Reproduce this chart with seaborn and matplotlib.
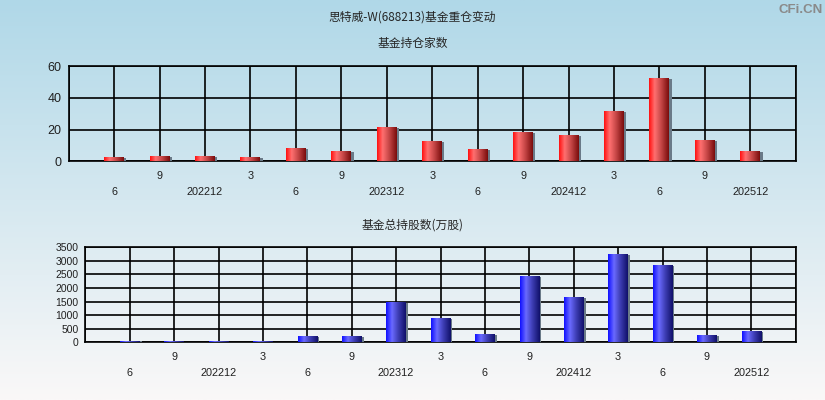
import numpy as np
import pandas as pd
import matplotlib
matplotlib.use('Agg')
import matplotlib.pyplot as plt
from matplotlib.colors import LinearSegmentedColormap
from matplotlib.patches import Rectangle
import seaborn as sns

# 报告期 (季度) 及对应数据
periods = ['202206', '202209', '202212', '202303', '202306', '202309', '202312',
           '202403', '202406', '202409', '202412', '202503', '202506', '202509', '202512']
tick_labels = ['6', '9', '202212', '3', '6', '9', '202312',
               '3', '6', '9', '202412', '3', '6', '9', '202512']
fund_counts = [2, 3, 3, 2, 8, 6, 21, 12, 7, 18, 16, 31, 52, 13, 6]
fund_shares = [30, 25, 20, 25, 190, 190, 1450, 860, 270, 2410, 1630, 3220, 2810, 230, 380]

main_title = '思特威-W(688213)基金重仓变动'
top_title = '基金持仓家数'
bottom_title = '基金总持股数(万股)'

sns.set_style('white')
plt.rcParams['font.family'] = ['Liberation Sans', 'Noto Sans CJK SC']
CJK = ['Noto Sans CJK SC', 'DejaVu Sans']

red_cmap = LinearSegmentedColormap.from_list(
    'redbar', [(0, '#ff1010'), (0.28, '#ff7070'), (0.6, '#c84848'), (1, '#7a0c0c')])
blue_cmap = LinearSegmentedColormap.from_list(
    'bluebar', [(0, '#1010ff'), (0.3, '#6a6aff'), (0.6, '#4040b8'), (1, '#10106a')])

fig = plt.figure(figsize=(8.25, 4.0), dpi=100)

# 背景渐变
bg = fig.add_axes([0, 0, 1, 1], zorder=-10)
top_c = np.array([176, 216, 232]) / 255
bot_c = np.array([250, 248, 248]) / 255
t = np.linspace(0, 1, 256)[:, None]
grad = top_c[None, None, :] * (1 - t[..., None]) + bot_c[None, None, :] * t[..., None]
bg.imshow(np.repeat(grad, 2, axis=1), aspect='auto', extent=[0, 1, 0, 1])
bg.set_axis_off()

fig.text(0.5, 1 - 17.5 / 400, main_title, ha='center', va='center', fontsize=8.5, family=CJK)
fig.text(0.997, 1 - 10 / 400, 'CFi.CN', ha='right', va='center', fontsize=9.5,
         color='#8a8a8a', fontweight='bold')


def draw_panel(rect, values, cmap, ymax, ystep, title, title_y, ylab_size):
    ax = fig.add_axes(rect)
    ax.patch.set_alpha(0)
    sns.barplot(x=periods, y=values, ax=ax, width=0.44, color='red', saturation=1)
    g = np.linspace(0, 1, 64)[None, :]
    for p in list(ax.patches):
        x0, w, h = p.get_x(), p.get_width(), p.get_height()
        p.set_facecolor('none')
        p.set_edgecolor('none')
        ax.add_patch(Rectangle((x0 + w, 0), 0.05, h, facecolor='#6a7a88',
                               edgecolor='none', zorder=2.9))
        ax.imshow(g, cmap=cmap, aspect='auto', extent=[x0, x0 + w, 0, h],
                  zorder=3, interpolation='bilinear')
    n = len(values)
    ax.set_xlim(-1, n)
    ax.set_ylim(0, ymax)
    ax.set_xticks(np.arange(-1, n + 1))
    ax.set_xticklabels([])
    ax.set_yticks(np.arange(0, ymax + 1, ystep))
    ax.tick_params(axis='y', labelsize=ylab_size, length=4, width=1.2,
                   color='black', labelcolor='#202020', pad=1)
    ax.tick_params(axis='x', length=4, width=1.2, color='black')
    ax.grid(True, color='black', linewidth=1.2, zorder=1)
    ax.set_axisbelow(True)
    for s in ax.spines.values():
        s.set_visible(True)
        s.set_color('black')
        s.set_linewidth(1.2)
    ax.set_xlabel('')
    ax.set_ylabel('')
    tr = ax.get_xaxis_transform()
    for i, lab in enumerate(tick_labels):
        off = -0.155 if i % 2 == 1 else -0.32
        ax.text(i, off, lab, transform=tr, ha='center', va='center',
                fontsize=7.8, color='#202020')
    fig.text(0.5, 1 - title_y / 400, title,
             ha='center', va='center', fontsize=8.5, family=CJK)
    return ax


draw_panel([68.7 / 825, 1 - 161.3 / 400, 727 / 825, 95 / 400],
           fund_counts, red_cmap, 60, 20, top_title, 43, 9)
draw_panel([85.3 / 825, 1 - 342.3 / 400, 710.4 / 825, 95 / 400],
           fund_shares, blue_cmap, 3500, 500, bottom_title, 225, 7.5)

fig.savefig('out.png', dpi=100)
